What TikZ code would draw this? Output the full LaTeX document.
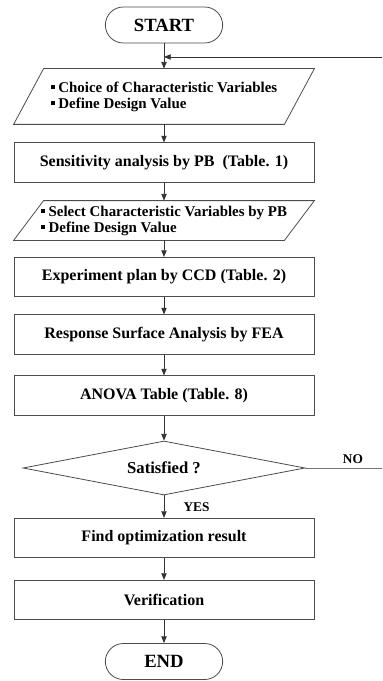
\documentclass[tikz,border=0pt]{standalone}
\usepackage{fontspec}
\setmainfont{Liberation Serif}
\usetikzlibrary{shapes.geometric,arrows.meta,positioning}

\newcommand{\sqbul}{\rule[0.22em]{0.26em}{0.26em}\ }

\tikzset{
    terminal/.style={draw=black!70, rounded corners=13.5pt, minimum width=88pt,
        minimum height=27pt, font=\fontsize{14}{16}\selectfont\bfseries},
    process/.style={draw=black!70, minimum width=225pt, minimum height=29.5pt,
        font=\fontsize{12}{14}\selectfont\bfseries},
    iobox/.style={minimum width=202.5pt, inner sep=0pt, align=left,
        font=\fontsize{11.2}{12}\selectfont\bfseries,
        append after command={\pgfextra{
            \draw[black!70]
                ([xshift=11.25pt]\tikzlastnode.north west)
                -- ([xshift=11.25pt]\tikzlastnode.north east)
                -- ([xshift=-11.25pt]\tikzlastnode.south east)
                -- ([xshift=-11.25pt]\tikzlastnode.south west) -- cycle;}}},
    decision/.style={draw=black!70, diamond, minimum width=211.5pt,
        minimum height=40.5pt, inner sep=0pt, aspect=5,
        font=\fontsize{12.5}{14}\selectfont\bfseries},
    flow/.style={draw=black!80, ->},
    tag/.style={font=\fontsize{10}{12}\selectfont\bfseries}
}

\begin{document}
\begin{tikzpicture}[x=0.75pt, y=-0.75pt, line width=0.6pt,
    >={Triangle[length=5pt,width=4pt]}]
    \useasboundingbox (0,0) rectangle (382,681);

    \node[terminal] (start) at (164,25) {START};
    \node[iobox, minimum height=41.25pt] (choice) at (164,96.5)
        {\sqbul Choice of Characteristic Variables\\ \sqbul Define Design Value};
    \node[process] (sens) at (164,162.5) {Sensitivity analysis by PB \ (Table. 1)};
    \node[iobox, minimum height=29.25pt] (select) at (164,220.5)
        {\sqbul Select Characteristic Variables by PB\\ \sqbul Define Design Value};
    \node[process] (ccd) at (164,277) {Experiment plan by CCD (Table. 2)};
    \node[process] (fea) at (164,334.5) {Response Surface Analysis by FEA};
    \node[process] (anova) at (164,395.5) {ANOVA Table (Table. 8)};
    \node[decision] (sat) at (164,468) {Satisfied ?};
    \node[process] (optim) at (164,538) {Find optimization result};
    \node[process] (verif) at (164,600) {Verification};
    \node[terminal] (end) at (164,661.5) {END};

    \draw[flow] (start) -- (choice);
    \draw[flow] (choice) -- (sens);
    \draw[flow] (sens) -- (select);
    \draw[flow] (select) -- (ccd);
    \draw[flow] (ccd) -- (fea);
    \draw[flow] (fea) -- (anova);
    \draw[flow] (anova) -- (sat);
    \draw[flow] (sat) -- node[tag, right=11pt] {YES} (optim);
    \draw[flow] (optim) -- (verif);
    \draw[flow] (verif) -- (end);

    % loop back, runs off the page
    \coordinate (noout) at (382,468);
    \coordinate (loopin) at (382,57);
    \draw[draw=black!55] (sat) -- node[tag, above, pos=0.62] {NO} (noout);
    \draw[flow] (loopin) -- (start.south |- loopin);
\end{tikzpicture}
\end{document}
